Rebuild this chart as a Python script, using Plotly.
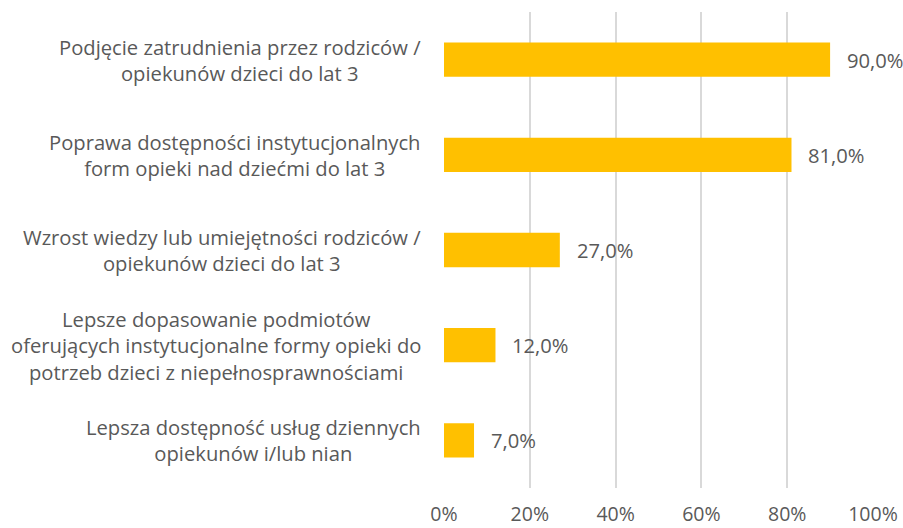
import plotly.graph_objects as go

categories = [
    "Podjęcie zatrudnienia przez rodziców /<br>opiekunów dzieci do lat 3",
    "Poprawa dostępności instytucjonalnych<br>form opieki nad dziećmi do lat 3",
    "Wzrost wiedzy lub umiejętności rodziców /<br>opiekunów dzieci do lat 3",
    "Lepsze dopasowanie podmiotów<br>oferujących instytucjonalne formy opieki do<br>potrzeb dzieci z niepełnosprawnościami",
    "Lepsza dostępność usług dziennych<br>opiekunów i/lub nian",
]
values = [0.90, 0.81, 0.27, 0.12, 0.07]
tick_vals = [0, 0.2, 0.4, 0.6, 0.8, 1.0]
tick_text = ["0%", "20%", "40%", "60%", "80%", "100%"]

FONT = "Open Sans"
GRAY = "#595959"
SIZE = 20.2

labels = [f"{v*100:.1f}".replace(".", ",") + "%" for v in values]

fig = go.Figure(go.Bar(
    x=values, y=categories, orientation="h",
    marker=dict(color="#FFC000", line=dict(width=0)),
    hoverinfo="skip",
))

for c, v, t in zip(categories, values, labels):
    fig.add_annotation(x=v, y=c, text=t, showarrow=False, xanchor="left",
                       xshift=15, font=dict(family=FONT, size=SIZE, color=GRAY))

# category labels: centred multi-line blocks, right edge near the axis
for c in categories:
    fig.add_annotation(xref="paper", x=0, y=c, yref="y", text=c,
                       showarrow=False, xanchor="right", align="center",
                       xshift=-21, font=dict(family=FONT, size=SIZE, color=GRAY))

fig.update_layout(
    width=903, height=528,
    margin=dict(l=444, r=30, t=12, b=40, autoexpand=False),
    paper_bgcolor="white", plot_bgcolor="white",
    bargap=0.64,
    showlegend=False,
    font=dict(family=FONT, size=SIZE, color=GRAY),
    xaxis=dict(range=[0, 1], tickvals=tick_vals, ticktext=tick_text,
               showgrid=True, gridcolor="#d9d9d9", gridwidth=1.5,
               zeroline=False, showline=False, ticks="", automargin=False,
               ticklabelstandoff=12,
               tickfont=dict(family=FONT, size=19.5, color=GRAY)),
    yaxis=dict(autorange="reversed", showgrid=False, zeroline=False,
               ticks="", showticklabels=False, automargin=False),
)

# remove the default 8px page margin so the 903x528 figure fills the window
fig.write_html(
    "out.html",
    config={"displayModeBar": False},
    post_script="document.body.style.margin='0';document.body.style.overflow='hidden';",
)
